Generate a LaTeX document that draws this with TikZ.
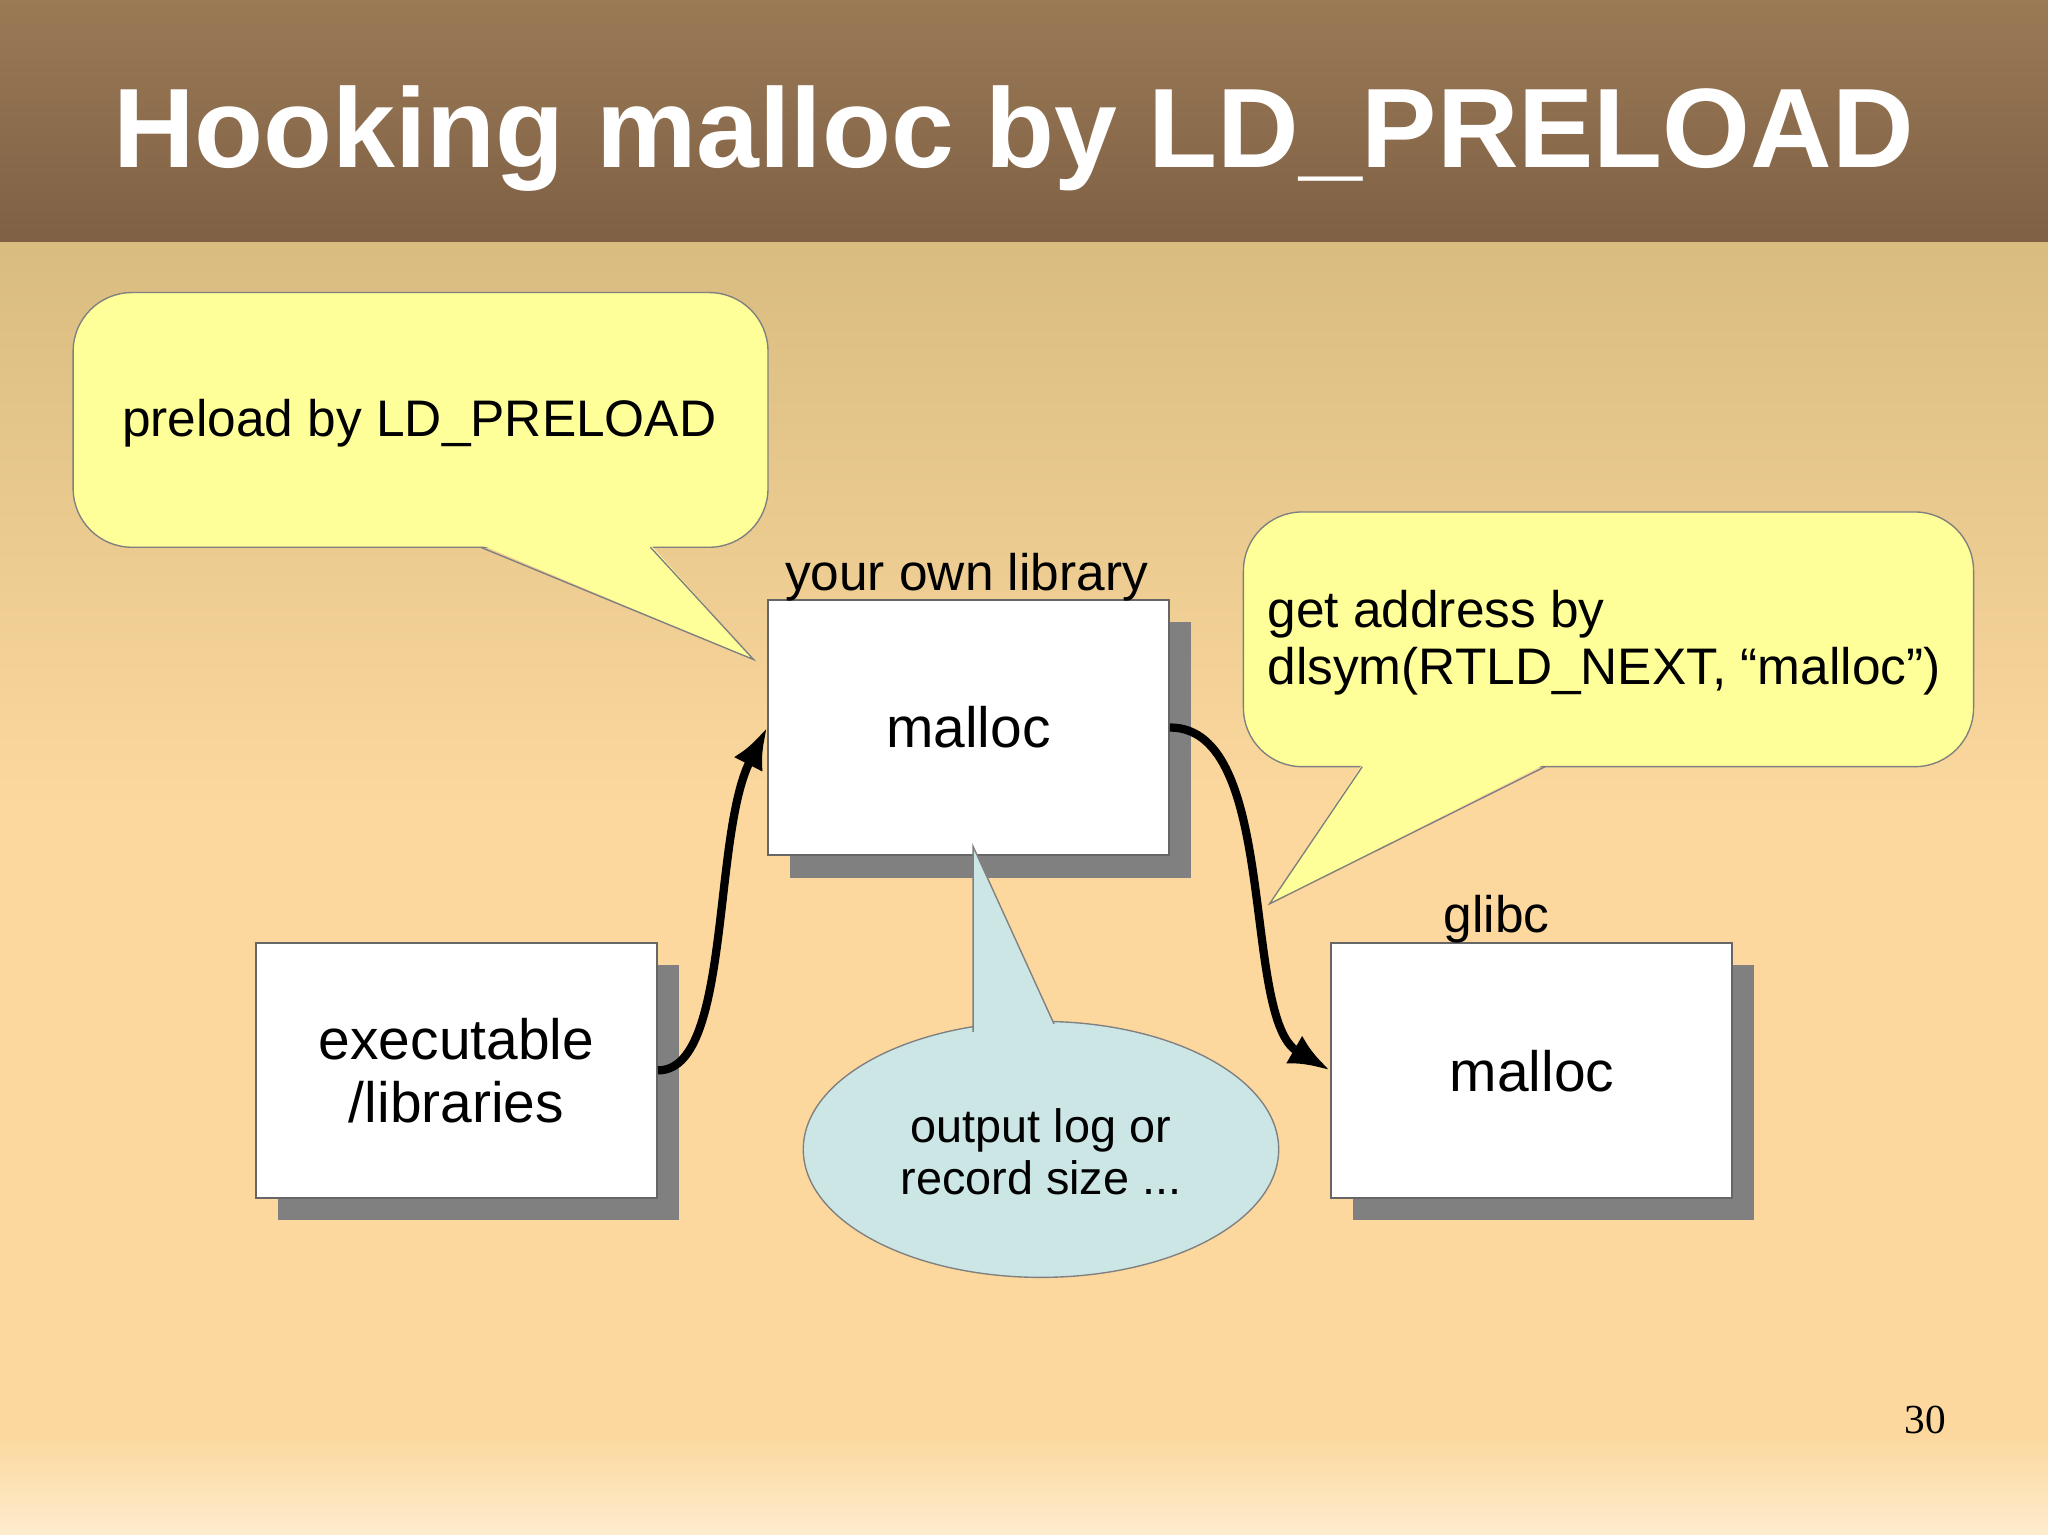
\documentclass[tikz,border=0pt]{standalone}
\usepackage{fontspec}
\setmainfont{Liberation Sans}
\newfontfamily\serifpg{Liberation Serif}
\usetikzlibrary{arrows.meta}
\definecolor{bandtop}{RGB}{154,122,85}
\definecolor{bandbot}{RGB}{127,96,69}
\definecolor{bgtop}{RGB}{217,188,128}
\definecolor{bgmid}{RGB}{252,216,158}
\definecolor{bgbot}{RGB}{254,236,205}
\definecolor{callyel}{RGB}{255,255,153}
\definecolor{callblue}{RGB}{204,230,230}
\begin{document}
\begin{tikzpicture}[x=0.1mm,y=-0.1mm,
  callout/.style={fill=callyel, draw=black!50, line width=0.3pt},
  box/.style={draw=black!60, fill=white, line width=0.4pt, minimum width=30.7mm, minimum height=19.5mm, inner sep=0pt},
  shadow/.style={fill=black!50},
  conn/.style={line width=1.8pt, -{Latex[length=9pt,width=7pt]}}]
\useasboundingbox (0,0) rectangle (1568,1175);
\shade[top color=bandtop, bottom color=bandbot] (0,0) rectangle (1568,186);
\shade[top color=bgtop, bottom color=bgmid] (0,186) rectangle (1568,620);
\fill[bgmid] (0,619) rectangle (1568,1100);
\shade[top color=bgmid, bottom color=bgbot] (0,1099) rectangle (1568,1175);
\node[text=white, font=\fontsize{24.6}{30}\bfseries\selectfont] (title) at (776,106) {Hooking malloc by LD\_PRELOAD};
% callout 1
\draw[callout, rounded corners=4.5mm] (56,224) rectangle (588,419);
\fill[callyel] (368,417) -- (577,505) -- (498,417) -- cycle;
\draw[black!50, line width=0.3pt] (368,419) -- (577,505) -- (498,419);
\node[anchor=west, font=\fontsize{11.2}{13}\selectfont] (t1) at (81,324) {preload by LD\_PRELOAD};
% callout 2
\draw[callout, rounded corners=4.5mm] (952,392) rectangle (1511,587);
\fill[callyel] (1043,585) -- (972,692) -- (1183,585) -- cycle;
\draw[black!50, line width=0.3pt] (1043,587) -- (972,692) -- (1183,587);
\node[anchor=west, align=left, font=\fontsize{11.2}{12.4}\selectfont] (t2) at (958,492) {get address by\\dlsym(RTLD\_NEXT, “malloc”)};
% boxes
\fill[shadow] (213,739) rectangle (520,934);
\fill[shadow] (605,476) rectangle (912,672);
\fill[shadow] (1036,739) rectangle (1343,934);
\node[box, align=center, font=\fontsize{12.4}{13.8}\selectfont] (exe) at (349.5,819.5) {executable\\/libraries};
\node[box, font=\fontsize{12.4}{15}\selectfont] (lib) at (741.5,557) {malloc};
\node[box] (glibc) at (1172.5,819.5) {};
\node[font=\fontsize{12.4}{15}\selectfont] (gm) at (1173,820) {malloc};
\node[font=\fontsize{11.2}{13}\selectfont] (lab1) at (740,442) {your own library};
\node[font=\fontsize{11.2}{13}\selectfont] (lab2) at (1146,704) {glibc};
% ellipse callout
\draw[fill=callblue, draw=black!50, line width=0.3pt] (797,880) ellipse [x radius=182, y radius=98];
\fill[callblue] (745,792) -- (745,648) -- (807,785) -- cycle;
\draw[black!50, line width=0.3pt] (745,790) -- (745,648) -- (807,784);
\node[align=center, font=\fontsize{10.2}{11.3}\selectfont] (t3) at (797,882) {output log or\\record size ...};
% connectors
\draw[conn] (exe.east) .. controls (560,820) and (545,640) .. (lib.west);
\draw[conn] (lib.east) .. controls (980,557) and (950,780) .. (glibc.west);
\node[font=\serifpg\fontsize{9}{11}\selectfont] (pg) at (1474,1087) {30};
\end{tikzpicture}
\end{document}
